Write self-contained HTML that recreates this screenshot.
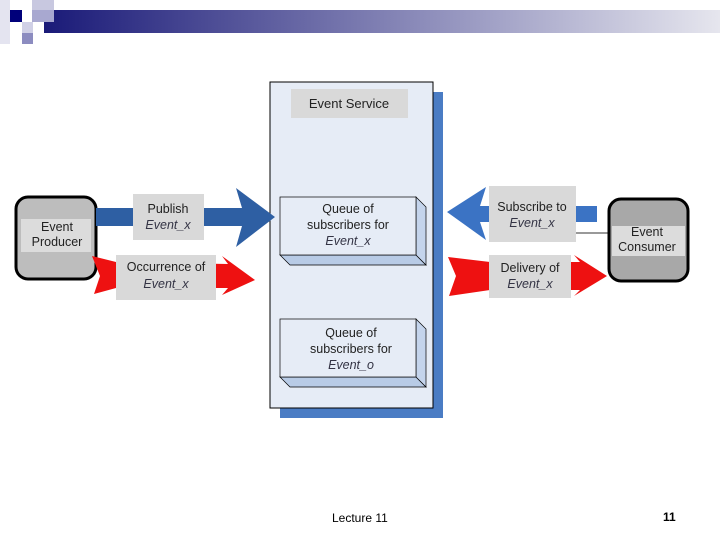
<!DOCTYPE html>
<html><head><style>
body{margin:0;width:720px;height:540px;background:#fff;overflow:hidden;font-family:"Liberation Sans",sans-serif}
svg text{font-family:"Liberation Sans",sans-serif}
</style></head><body>
<svg width="720" height="540" viewBox="0 0 720 540" xmlns="http://www.w3.org/2000/svg">
<defs>
<linearGradient id="bar" x1="0" x2="1"><stop offset="0" stop-color="#1a1a78"/><stop offset="1" stop-color="#e6e6ee"/></linearGradient>
</defs>
<!-- top decoration -->
<rect x="44" y="10" width="676" height="23" fill="url(#bar)"/>
<rect x="10" y="10" width="12" height="12" fill="#00007a"/>
<rect x="32" y="0" width="22" height="22" fill="#c8c8e0"/>
<rect x="32" y="10" width="22" height="12" fill="#a8a8d0"/>
<rect x="22" y="22" width="11" height="11" fill="#d0d0e6"/>
<rect x="22" y="33" width="11" height="11" fill="#8c8cc0"/>
<rect x="0" y="0" width="10" height="44" fill="#e4e4f0"/>
<!-- event service -->
<rect x="280" y="92" width="163" height="326" fill="#4a7cc4"/>
<rect x="270" y="82" width="163" height="326" fill="#e6ecf6" stroke="#000" stroke-width="1"/>
<rect x="291" y="89" width="117" height="29" fill="#d9d9d9"/>
<text x="349" y="108" font-size="13" text-anchor="middle" fill="#222">Event Service</text>
<!-- queue 1 -->
<polygon points="280,255 416,255 426,265 290,265" fill="#b8cbe6" stroke="#000" stroke-width="0.7"/>
<polygon points="416,197 426,207 426,265 416,255" fill="#c4d4ec" stroke="#000" stroke-width="0.7"/>
<rect x="280" y="197" width="136" height="58" fill="#e6ecf6" stroke="#000" stroke-width="0.7"/>
<text x="348" y="213" font-size="12.5" text-anchor="middle" fill="#222">Queue of</text>
<text x="348" y="229" font-size="12.5" text-anchor="middle" fill="#222">subscribers for</text>
<text x="348" y="245" font-size="12.5" text-anchor="middle" fill="#334" font-style="italic">Event_x</text>
<!-- queue 2 -->
<polygon points="280,377 416,377 426,387 290,387" fill="#b8cbe6" stroke="#000" stroke-width="0.7"/>
<polygon points="416,319 426,329 426,387 416,377" fill="#c4d4ec" stroke="#000" stroke-width="0.7"/>
<rect x="280" y="319" width="136" height="58" fill="#e6ecf6" stroke="#000" stroke-width="0.7"/>
<text x="351" y="337" font-size="12.5" text-anchor="middle" fill="#222">Queue of</text>
<text x="351" y="353" font-size="12.5" text-anchor="middle" fill="#222">subscribers for</text>
<text x="351" y="369" font-size="12.5" text-anchor="middle" fill="#334" font-style="italic">Event_o</text>
<!-- producer -->
<rect x="16" y="197" width="80" height="82" rx="12" fill="#bdbdbd" stroke="#000" stroke-width="3"/>
<rect x="21" y="219" width="70" height="33" fill="#dcdcdc"/>
<text x="57" y="231" font-size="12.5" text-anchor="middle" fill="#222">Event</text>
<text x="57" y="246" font-size="12.5" text-anchor="middle" fill="#222">Producer</text>
<!-- publish arrow -->
<polygon points="96,208 242,208 236,188 275,217 236,247 242,226 96,226" fill="#2e5fa3"/>
<rect x="133" y="194" width="71" height="46" fill="#d9d9d9"/>
<text x="168" y="213" font-size="12.5" text-anchor="middle" fill="#222">Publish</text>
<text x="168" y="229" font-size="12.5" text-anchor="middle" fill="#334" font-style="italic">Event_x</text>
<!-- occurrence red arrow -->
<polygon points="92,256 116,262 228,264 222,256 255,280 222,295 228,288 116,288 94,294 100,276" fill="#ee1111"/>
<rect x="116" y="255" width="100" height="45" fill="#d9d9d9"/>
<text x="166" y="271" font-size="12.5" text-anchor="middle" fill="#222">Occurrence of</text>
<text x="166" y="288" font-size="12.5" text-anchor="middle" fill="#334" font-style="italic">Event_x</text>
<!-- consumer -->
<line x1="576" y1="233" x2="610" y2="233" stroke="#333" stroke-width="1"/>
<rect x="609" y="199" width="79" height="82" rx="12" fill="#a8a8a8" stroke="#000" stroke-width="3"/>
<rect x="612" y="226" width="73" height="30" fill="#dcdcdc"/>
<text x="647" y="236" font-size="12.5" text-anchor="middle" fill="#222">Event</text>
<text x="647" y="251" font-size="12.5" text-anchor="middle" fill="#222">Consumer</text>
<!-- subscribe arrow -->
<polygon points="597,206 480,206 486,187 447,212 486,240 480,222 597,222" fill="#3b73c4"/>
<rect x="489" y="186" width="87" height="56" fill="#d9d9d9"/>
<text x="532" y="211" font-size="12.5" text-anchor="middle" fill="#222">Subscribe to</text>
<text x="532" y="227" font-size="12.5" text-anchor="middle" fill="#334" font-style="italic">Event_x</text>
<!-- delivery red arrow -->
<polygon points="448,257 490,262 580,262 574,255 607,276 574,296 580,290 490,290 449,296 456,276" fill="#ee1111"/>
<rect x="489" y="255" width="82" height="43" fill="#d9d9d9"/>
<text x="530" y="272" font-size="12.5" text-anchor="middle" fill="#222">Delivery of</text>
<text x="530" y="288" font-size="12.5" text-anchor="middle" fill="#334" font-style="italic">Event_x</text>
<!-- footer -->
<text x="332" y="522" font-size="12" fill="#000">Lecture 11</text>
<text x="663" y="521" font-size="12" font-weight="bold" fill="#000">11</text>
</svg>
</body></html>
